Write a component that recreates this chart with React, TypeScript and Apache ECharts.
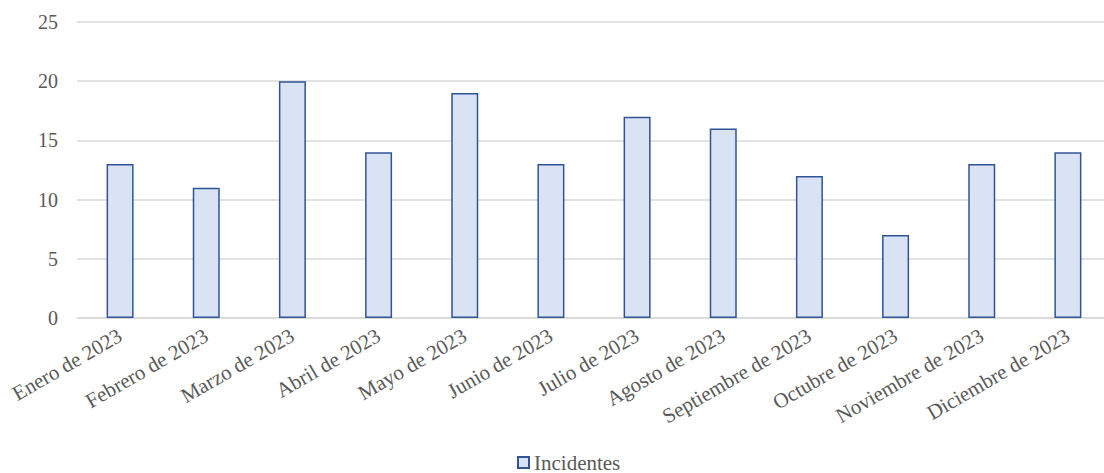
import React, { useEffect, useRef } from "react";
import * as echarts from "echarts";

const categories = [
  "Enero de 2023",
  "Febrero de 2023",
  "Marzo de 2023",
  "Abril de 2023",
  "Mayo de 2023",
  "Junio de 2023",
  "Julio de 2023",
  "Agosto de 2023",
  "Septiembre de 2023",
  "Octubre de 2023",
  "Noviembre de 2023",
  "Diciembre de 2023",
];
const incidentes = [13, 11, 20, 14, 19, 13, 17, 16, 12, 7, 13, 14];
const seriesName = "Incidentes";

const FONT = "Liberation Serif, Times New Roman, serif";

export default function App() {
  const ref = useRef<HTMLDivElement>(null);
  useEffect(() => {
    if (!ref.current) return;
    const chart = echarts.init(ref.current, undefined, { renderer: "svg" });
    chart.setOption({
      animation: false,
      textStyle: { fontFamily: FONT },
      grid: { left: 77, right: 9, top: 22, bottom: 155 },
      legend: {
        data: [seriesName],
        bottom: -5,
        left: 512,
        icon: "rect",
        itemWidth: 11,
        itemHeight: 11,
        itemGap: 4,
        textStyle: { fontFamily: FONT, fontSize: 21, color: "#595959" },
      },
      xAxis: {
        type: "category",
        data: categories,
        axisLine: { lineStyle: { color: "#D9D9D9", width: 1.5 } },
        axisTick: { show: false },
        axisLabel: {
          rotate: 30,
          interval: 0,
          margin: 16,
          fontFamily: FONT,
          fontSize: 21,
          color: "#595959",
        },
      },
      yAxis: {
        type: "value",
        min: 0,
        max: 25,
        interval: 5,
        axisLine: { show: false },
        axisTick: { show: false },
        splitLine: { lineStyle: { color: "#D9D9D9", width: 1.5 } },
        axisLabel: {
          margin: 19,
          fontFamily: FONT,
          fontSize: 20,
          color: "#595959",
        },
      },
      series: [
        {
          name: seriesName,
          type: "bar",
          data: incidentes,
          barWidth: 27,
          itemStyle: {
            color: "#DAE3F3",
            borderColor: "#2F5597",
            borderWidth: 1.5,
          },
        },
      ],
    });
    return () => chart.dispose();
  }, []);
  return (
    <div
      style={{
        position: "absolute",
        left: 0,
        top: 0,
        width: 1104,
        height: 473,
        overflow: "hidden",
        background: "#fff",
      }}
    >
      <div ref={ref} style={{ width: 1120, height: 473 }} />
    </div>
  );
}
